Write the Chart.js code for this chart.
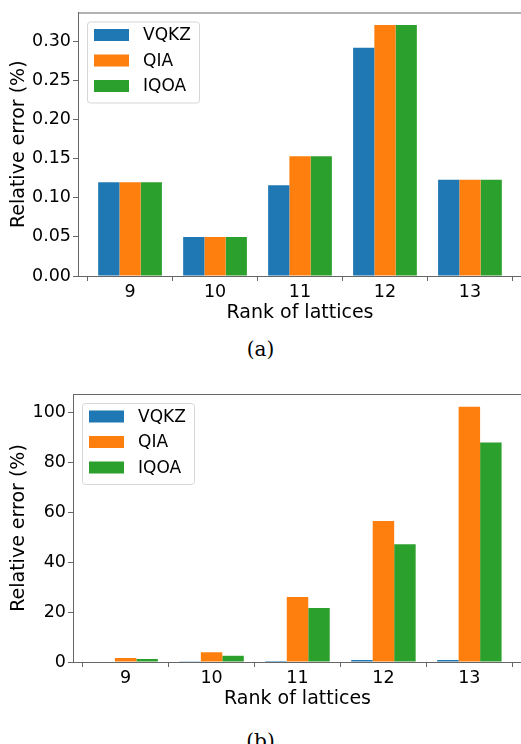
<!DOCTYPE html>
<html lang="en">
    <head>
        <meta charset="UTF-8" />
        <title>Relative error by rank of lattices</title>
        <script src="https://cdn.jsdelivr.net/npm/chart.js"></script>
        <style>
            html, body { margin: 0; padding: 0; background: #fff; overflow: hidden; width: 521px; height: 744px; }
            .panel { position: absolute; left: 0; width: 540px; }
            .caption { position: absolute; left: 0; width: 521px; text-align: center;
                       font-family: "DejaVu Serif", serif; font-size: 20px; color: #000; }
        </style>
    </head>
    <body>
        <div class="panel" style="top:0;height:330px"><canvas id="chartA"></canvas></div>
        <div class="caption" style="top:337px">(a)</div>
        <div class="panel" style="top:380px;height:336px"><canvas id="chartB"></canvas></div>
        <div class="caption" style="top:729px">(b)</div>

        <script>
            // ranks on the x axis
            const ranks = [9, 10, 11, 12, 13];
            const seriesNames = ['VQKZ', 'QIA', 'IQOA'];
            const colors = ['#1f77b4', '#ff7f0e', '#2ca02c'];

            // panel (a)
            const vqkzA = [0.120, 0.050, 0.116, 0.292, 0.123];
            const qiaA = [0.120, 0.050, 0.153, 0.321, 0.123];
            const iqoaA = [0.120, 0.050, 0.153, 0.321, 0.123];
            const yTicksA = [0, 0.05, 0.10, 0.15, 0.20, 0.25, 0.30];

            // panel (b)
            const vqkzB = [0.2, 0.3, 0.4, 0.8, 0.8];
            const qiaB = [1.6, 3.9, 26.1, 56.6, 102.5];
            const iqoaB = [1.2, 2.5, 21.7, 47.3, 88.1];
            const yTicksB = [0, 20, 40, 60, 80, 100];

            const FONT = 'DejaVu Sans';
            const SPINE = '#666';

            const frameAndLegend = {
                id: 'frameAndLegend',
                afterDraw(chart) {
                    const ctx = chart.ctx;
                    const a = chart.chartArea;
                    ctx.save();
                    ctx.strokeStyle = SPINE;
                    ctx.lineWidth = 1;
                    ctx.strokeRect(a.left + 0.5, a.top + 0.5, a.right - a.left, a.bottom - a.top);

                    // legend box, upper left
                    const bx = a.left + 9, by = a.top + 9, bw = 112, bh = 81;
                    ctx.beginPath();
                    ctx.roundRect(bx + 0.5, by + 0.5, bw, bh, 3);
                    ctx.fillStyle = 'rgba(255,255,255,0.8)';
                    ctx.fill();
                    ctx.strokeStyle = '#d6d6d6';
                    ctx.stroke();
                    ctx.font = '17px "' + FONT + '"';
                    ctx.textBaseline = 'middle';
                    chart.data.datasets.forEach((ds, i) => {
                        const cy = by + 13.5 + i * 25.5;
                        ctx.fillStyle = ds.backgroundColor;
                        ctx.fillRect(bx + 7, cy - 6, 35, 12);
                        ctx.fillStyle = '#000';
                        ctx.fillText(ds.label, bx + 56, cy + 1);
                    });
                    ctx.restore();
                }
            };

            function makeChart(id, series, yMax, yTicks, yLeft, padTop, fmt) {
                const datasets = series.map((vals, i) => ({
                    label: seriesNames[i],
                    data: ranks.map((r, j) => ({ x: r, y: vals[j] })),
                    backgroundColor: colors[i],
                    borderWidth: 0,
                    categoryPercentage: 0.75,
                    barPercentage: 1.0
                }));
                return new Chart(document.getElementById(id), {
                    type: 'bar',
                    data: { datasets },
                    plugins: [frameAndLegend],
                    options: {
                        responsive: true,
                        maintainAspectRatio: false,
                        animation: false,
                        layout: { padding: { top: padTop, right: 540 - 522, left: 0, bottom: 0 } },
                        plugins: { legend: { display: false }, tooltip: { enabled: false } },
                        scales: {
                            x: {
                                type: 'linear',
                                min: 8.3875,
                                max: 13.6125,
                                offset: false,
                                afterBuildTicks: s => { s.ticks = ranks.map(v => ({ value: v })); },
                                afterFit: s => { s.height = 54; },
                                grid: { drawOnChartArea: false, tickLength: 5, color: SPINE },
                                border: { color: SPINE },
                                ticks: { color: '#000', font: { family: FONT, size: 17.5 }, padding: 1, maxRotation: 0 },
                                title: { display: true, text: 'Rank of lattices', color: '#000',
                                         font: { family: FONT, size: 19 }, padding: { top: 0, bottom: 6 } }
                            },
                            y: {
                                min: 0,
                                max: yMax,
                                afterBuildTicks: s => { s.ticks = yTicks.map(v => ({ value: v })); },
                                afterFit: s => { s.width = yLeft; },
                                grid: { drawOnChartArea: false, tickLength: 5, color: SPINE },
                                border: { color: SPINE },
                                ticks: { color: '#000', font: { family: FONT, size: 17.5 }, padding: 2, callback: fmt },
                                title: { display: true, text: 'Relative error (%)', color: '#000',
                                         font: { family: FONT, size: 19 }, padding: { top: 8, bottom: 0 } }
                            }
                        }
                    }
                });
            }

            makeChart('chartA', [vqkzA, qiaA, iqoaA], 0.337, yTicksA, 78, 10, v => v.toFixed(2));
            makeChart('chartB', [vqkzB, qiaB, iqoaB], 107.6, yTicksB, 73, 14, v => String(v));
        </script>
    </body>
</html>
